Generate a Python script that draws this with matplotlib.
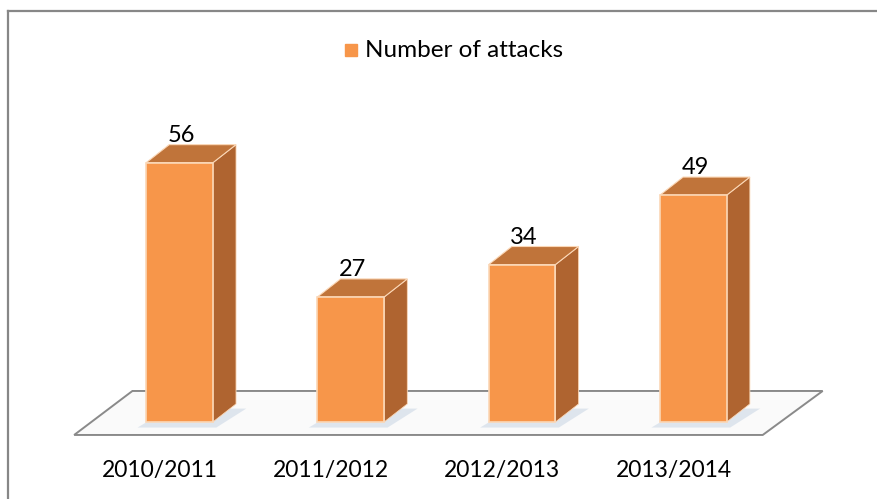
import matplotlib
matplotlib.use('Agg')
import matplotlib.pyplot as plt
from matplotlib.lines import Line2D

plt.rcParams['font.family'] = ['Lato', 'DejaVu Sans']

seasons = ['2010/2011', '2011/2012', '2012/2013', '2013/2014']
attacks = [56, 27, 34, 49]
series_name = 'Number of attacks'

# colours of the 3d column faces
FRONT = '#F7964A'
SIDE = '#AF6430'
TOP = '#C0743A'
EDGE = '#FBD7B6'

bar_w = 0.39      # width of the front face, in category units
dx, dy = 0.135, 3.9   # depth offset of the column (x in categories, y in attacks)

fig = plt.figure(figsize=(8.78, 4.99), dpi=100)
ax = fig.add_axes([0, 0, 1, 1])
ax.set_xlim(-1.048, 4.078)
ax.set_ylim(-16.63, 91.14)
ax.axis('off')

# floor of the 3d plot
fl, fr = -0.615, 3.405
floor = [(fl, -2.8), (fr, -2.8), (fr + 0.35, 6.7), (fl + 0.34, 6.7)]
ax.fill(*zip(*floor), facecolor='#FAFAFA', edgecolor='#8A8A8A', lw=1.4, zorder=1)

for i, v in enumerate(attacks):
    x0, x1 = i - bar_w / 2, i + bar_w / 2
    # soft shadow at the foot of the column
    ax.fill([x0 - 0.05, x1 + 0.02, x1 + dx + 0.06, x0 + dx],
            [-1.2, -1.2, dy - 1.0, dy - 1.0],
            color='#C3D1E2', alpha=0.5, lw=0, zorder=2)
    # side face
    ax.fill([x1, x1 + dx, x1 + dx, x1], [0, dy, v + dy, v],
            facecolor=SIDE, edgecolor=EDGE, lw=0.6, zorder=3)
    # top face
    ax.fill([x0, x1, x1 + dx, x0 + dx], [v, v, v + dy, v + dy],
            facecolor=TOP, edgecolor=EDGE, lw=0.8, zorder=3)
    # front face
    ax.fill([x0, x1, x1, x0], [0, 0, v, v],
            facecolor=FRONT, edgecolor=EDGE, lw=1.2, zorder=4)
    ax.text(i + 0.01, v + dy + 0.65, str(v), ha='center', va='baseline',
            fontsize=17, color='black', zorder=5)
    ax.text(i - 0.115, -10.4, seasons[i], ha='center', va='center',
            fontsize=16.5, color='black')

# legend entry above the columns
ax.plot([1.0], [80.3], marker='s', ms=8.6, color=FRONT, ls='none')
ax.text(1.085, 80.3, series_name, ha='left', va='center', fontsize=17.5,
        color='black')

# chart frame (only the top and left edges fall inside the image)
fig.add_artist(Line2D([8 / 878, 8 / 878], [0, 1 - 10.5 / 499],
                      color='#878787', lw=1.6))
fig.add_artist(Line2D([8 / 878, 1], [1 - 10.5 / 499, 1 - 10.5 / 499],
                      color='#878787', lw=1.6))

fig.savefig('out.png', dpi=100, facecolor='white')
